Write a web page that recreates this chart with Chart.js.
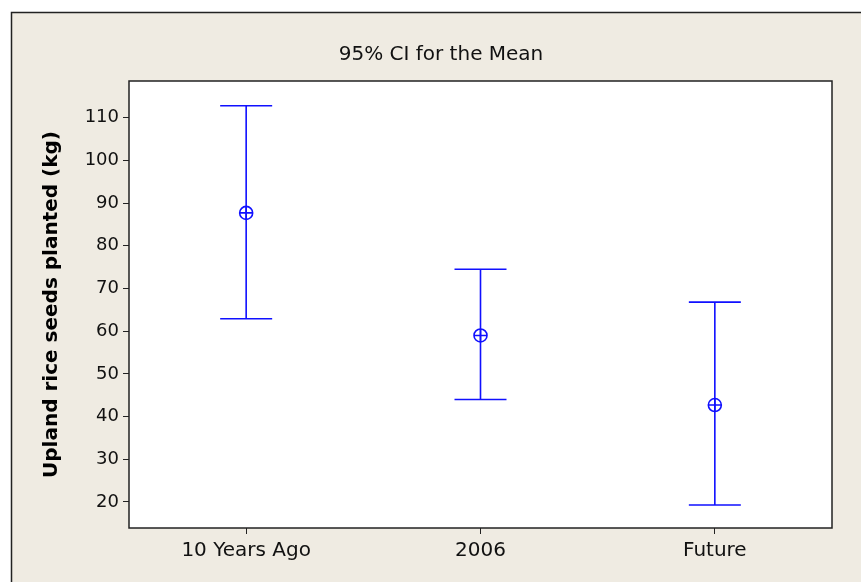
<!DOCTYPE html>
<html>
<head>
<meta charset="utf-8">
<script src="https://cdn.jsdelivr.net/npm/chart.js@4"></script>
<style>
  html, body { margin: 0; padding: 0; background: #ffffff; }
  #wrap { width: 861px; height: 582px; position: relative; }
</style>
</head>
<body>
<div id="wrap"><canvas id="ciChart"></canvas></div>
<script>
const categories = ['10 Years Ago', '2006', 'Future'];
const means = [87.7, 59.0, 42.7];
const lower = [62.9, 44.0, 19.3];
const upper = [112.8, 74.5, 66.8];
const yTicks = [20, 30, 40, 50, 60, 70, 80, 90, 100, 110];
const chartTitle = '95% CI for the Mean';

const blue = '#1010ff';

// beige panel, title + plot frame
const framePlugin = {
    id: 'frame',
    beforeDraw(chart) {
        const c = chart.ctx;
        c.save();
        c.fillStyle = '#ffffff';
        c.fillRect(0, 0, chart.width, chart.height);
        c.fillStyle = '#efebe2';
        c.fillRect(11, 12, chart.width, chart.height);
        c.strokeStyle = '#222';
        c.lineWidth = 1.5;
        c.strokeRect(11.5, 12.5, chart.width + 10, chart.height + 10);
        const a = chart.chartArea;
        c.fillStyle = '#ffffff';
        c.fillRect(a.left, a.top, a.right - a.left, a.bottom - a.top);
        c.fillStyle = '#111';
        c.font = '20px "DejaVu Sans"';
        c.textAlign = 'center';
        c.textBaseline = 'middle';
        c.fillText(chartTitle, 441, 55);
        c.restore();
    },
    afterDraw(chart) {
        const c = chart.ctx;
        const a = chart.chartArea;
        c.save();
        c.strokeStyle = '#222';
        c.lineWidth = 1.5;
        c.strokeRect(a.left, a.top, a.right - a.left, a.bottom - a.top);
        c.restore();
    }
};

// interval bars drawn through the scales
const errorBars = {
    id: 'errorBars',
    beforeDatasetsDraw(chart) {
        const c = chart.ctx;
        const xs = chart.scales.x, ys = chart.scales.y;
        c.save();
        c.strokeStyle = blue;
        c.lineWidth = 1.6;
        categories.forEach((cat, i) => {
            const x = xs.getPixelForValue(i);
            const yl = ys.getPixelForValue(lower[i]);
            const yu = ys.getPixelForValue(upper[i]);
            c.beginPath();
            c.moveTo(x, yl); c.lineTo(x, yu);
            c.moveTo(x - 26, yl); c.lineTo(x + 26, yl);
            c.moveTo(x - 26, yu); c.lineTo(x + 26, yu);
            c.stroke();
        });
        c.restore();
    }
};

const ctx = document.getElementById('ciChart').getContext('2d');
const chart = new Chart(ctx, {
    type: 'line',
    data: {
        labels: categories,
        datasets: [{
            data: means,
            showLine: false,
            pointStyle: 'circle',
            pointRadius: 6.5,
            pointBackgroundColor: 'rgba(0,0,0,0)',
            pointBorderColor: blue,
            pointBorderWidth: 1.6
        }, {
            data: means,
            showLine: false,
            pointStyle: 'cross',
            pointRadius: 6.5,
            pointBorderColor: blue,
            pointBorderWidth: 1.6
        }]
    },
    options: {
        responsive: true,
        maintainAspectRatio: false,
        animation: false,
        layout: { padding: { left: 0, right: 29, top: 81, bottom: 0 } },
        plugins: {
            legend: { display: false },
            tooltip: { enabled: false },
            title: { display: false }
        },
        scales: {
            x: {
                type: 'category',
                offset: true,
                grid: { drawOnChartArea: false, color: '#222', tickLength: 6, offset: false },
                border: { display: false },
                ticks: {
                    color: '#111',
                    font: { family: 'DejaVu Sans', size: 20 },
                    padding: 5,
                    maxRotation: 0
                },
                afterFit(scale) { scale.height = 54; }
            },
            y: {
                min: 13.9,
                max: 118.6,
                grid: { drawOnChartArea: false, color: '#222', tickLength: 6 },
                border: { display: false },
                afterBuildTicks(scale) { scale.ticks = yTicks.map(v => ({ value: v })); },
                ticks: {
                    color: '#111',
                    font: { family: 'DejaVu Sans', size: 18 },
                    padding: 4
                },
                title: {
                    display: true,
                    text: 'Upland rice seeds planted (kg)',
                    color: '#000',
                    font: { family: 'DejaVu Sans', size: 20, weight: 'bold' },
                    padding: { top: 40, bottom: 0 }
                },
                afterFit(scale) { scale.width = 129; }
            }
        }
    },
    plugins: [framePlugin, errorBars]
});
</script>
</body>
</html>
